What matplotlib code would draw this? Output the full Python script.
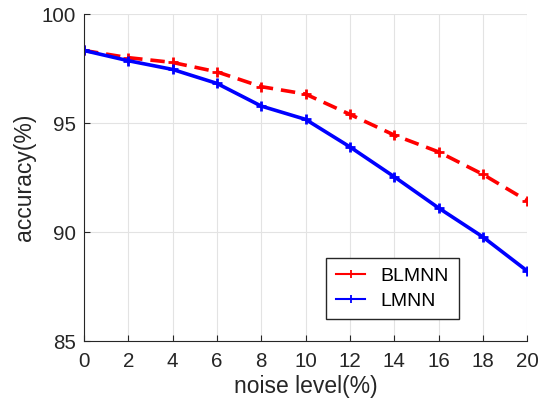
import matplotlib
matplotlib.use("Agg")
import matplotlib.pyplot as plt

noise_level = [0, 2, 4, 6, 8, 10, 12, 14, 16, 18, 20]
blmnn_acc = [98.33, 98.0, 97.78, 97.35, 96.67, 96.33, 95.4, 94.45, 93.68, 92.65, 91.44]
lmnn_acc = [98.33, 97.86, 97.46, 96.82, 95.78, 95.17, 93.91, 92.54, 91.11, 89.78, 88.22]

plt.rcParams["font.family"] = ["Liberation Sans", "DejaVu Sans"]

fig = plt.figure(figsize=(5.52, 4.13), dpi=100)
ax = fig.add_axes([0.152, 0.174, 0.803, 0.792])

ax.plot(noise_level, blmnn_acc, color="red", linestyle=(0, (4, 2.2)), linewidth=2.6,
        marker="+", markersize=7, markeredgewidth=2, label="BLMNN")
ax.plot(noise_level, lmnn_acc, color="blue", linestyle="-", linewidth=2.6,
        marker="+", markersize=7, markeredgewidth=2, label="LMNN")

ax.set_xlim(0, 20)
ax.set_ylim(85, 100)
ax.set_xticks(range(0, 21, 2))
ax.set_yticks([85, 90, 95, 100])
ax.grid(color="#e3e3e3", linewidth=0.8)
ax.set_axisbelow(True)
for side in ["top", "right"]:
    ax.spines[side].set_visible(False)
for side in ["left", "bottom"]:
    ax.spines[side].set_color("#262626")
ax.tick_params(direction="in", length=4, labelsize=14.8, colors="#262626")
ax.tick_params(axis="x", pad=8)
ax.tick_params(axis="y", pad=6)
ax.set_xlabel("noise level(%)", fontsize=16.5, color="#262626", labelpad=3)
ax.set_ylabel("accuracy(%)", fontsize=16.5, color="#262626", labelpad=4)

leg = ax.legend(loc="lower right", bbox_to_anchor=(0.846, 0.067), fontsize=14,
                fancybox=False, edgecolor="#262626", framealpha=1,
                handlelength=1.5, borderpad=0.5, labelspacing=0.35,
                handletextpad=0.8, borderaxespad=0)
leg.get_frame().set_linewidth(1)
for line in leg.get_lines():
    line.set_linewidth(1.5)
    line.set_linestyle("-")
    line.set_markersize(6)
    line.set_markeredgewidth(1.3)

fig.savefig("out.png", dpi=100)
